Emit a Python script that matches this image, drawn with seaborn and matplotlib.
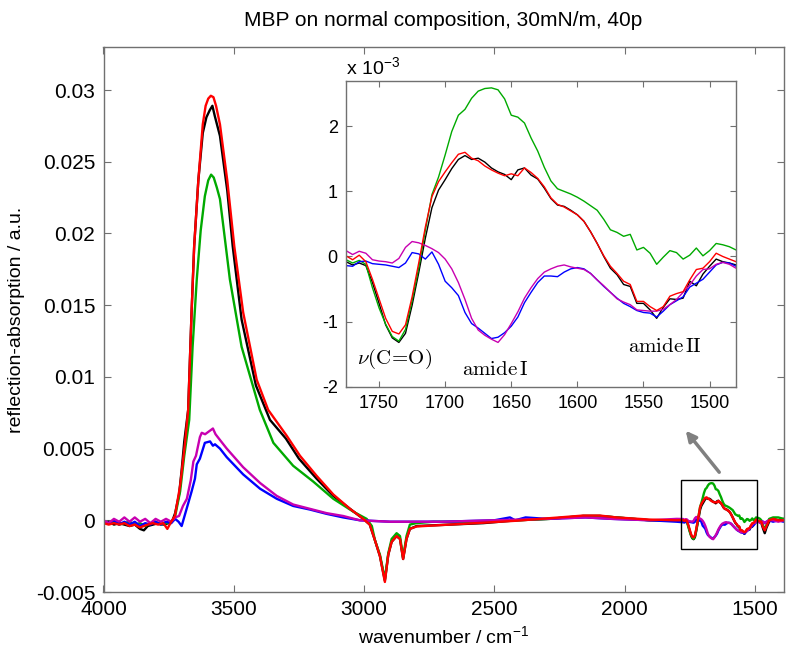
import numpy as np
import pandas as pd
import matplotlib
matplotlib.use("Agg")
import matplotlib.pyplot as plt
import matplotlib.patches as mpatches
import seaborn as sns

# ---------------- data ----------------
title = "MBP on normal composition, 30mN/m, 40p"
xlabel = "wavenumber / cm$^{-1}$"
ylabel = "reflection-absorption / a.u."

main_xticks = [4000, 3500, 3000, 2500, 2000, 1500]
main_yticks = [-0.005, 0, 0.005, 0.01, 0.015, 0.02, 0.025, 0.03]
main_ytick_labels = ["-0.005", "0", "0.005", "0.01", "0.015", "0.02", "0.025", "0.03"]
inset_xticks = [1750, 1700, 1650, 1600, 1550, 1500]
inset_yticks = [-2, -1, 0, 1, 2]

series_order = ["black", "green", "blue", "magenta", "red"]
series_colors = {"black": "#000000", "green": "#00aa00", "blue": "#0000ff",
                 "magenta": "#c800b0", "red": "#ff0000"}

# broad region (4000 - 1800 cm-1), absorbance units
black_wn = [4000, 3980, 3960, 3940, 3920, 3900, 3880, 3860, 3845, 3830, 3810, 3790, 3770, 3750,
            3735, 3725, 3710, 3700, 3690, 3675, 3662, 3652, 3636, 3619, 3605, 3592, 3582, 3573,
            3553, 3525, 3504, 3470, 3415, 3361, 3300, 3250, 3182, 3118, 3054, 3003, 2978, 2958,
            2939, 2920, 2907, 2894, 2875, 2862, 2850, 2837, 2824, 2798, 2670, 2543, 2414, 2287,
            2159, 2095, 2031, 1903, 1800]
black_val = [-0.0002, -0.0001, -0.0003, -0.0002, -0.0003, -0.0004, -0.0003, -0.0006, -0.0007,
             -0.0004, -0.0003, -0.0002, -0.0003, -0.0002, 0.0000, 0.0005, 0.0018, 0.0035, 0.0055,
             0.0077, 0.0145, 0.0191, 0.0237, 0.0270, 0.0281, 0.0286, 0.0289, 0.0282, 0.0268,
             0.0230, 0.0191, 0.0140, 0.0094, 0.0070, 0.0057, 0.0043, 0.0029, 0.0017, 0.0008,
             0.0001, -0.0003, -0.0014, -0.0025, -0.0042, -0.0024, -0.0015, -0.0011, -0.0013,
             -0.0027, -0.0013, -0.0006, -0.0004, -0.0003, -0.0002, 0.0000, 0.0001, 0.0003,
             0.0003, 0.0002, 0.0000, 0.0000]

red_wn = [4000, 3980, 3960, 3940, 3920, 3900, 3880, 3860, 3845, 3830, 3810, 3790, 3770, 3755,
          3740, 3726, 3706, 3687, 3675, 3662, 3652, 3636, 3619, 3608, 3598, 3588, 3578, 3568,
          3553, 3525, 3498, 3464, 3412, 3368, 3297, 3246, 3182, 3118, 3054, 3003, 2978, 2958,
          2939, 2920, 2907, 2894, 2875, 2862, 2850, 2837, 2824, 2798, 2670, 2543, 2414, 2287,
          2159, 2095, 2031, 1903, 1800]
red_val = [-0.0002, -0.0003, -0.0002, -0.0003, -0.0002, -0.0004, -0.0003, -0.0005, -0.0004,
           -0.0003, -0.0002, -0.0003, -0.0002, -0.0006, -0.0001, 0.0003, 0.0024, 0.0054, 0.0077,
           0.0145, 0.0191, 0.0237, 0.0276, 0.0289, 0.0294, 0.0296, 0.0295, 0.0289, 0.0276,
           0.0237, 0.0191, 0.0145, 0.0098, 0.0077, 0.0059, 0.0045, 0.0031, 0.0018, 0.0008,
           0.0001, -0.0003, -0.0014, -0.0025, -0.0043, -0.0024, -0.0015, -0.0011, -0.0013,
           -0.0027, -0.0013, -0.0006, -0.00043, -0.0003, -0.00017, -0.00003, 0.00015, 0.00033,
           0.00033, 0.0002, 0.00005, 0.0000]

green_wn = [4000, 3980, 3960, 3940, 3920, 3900, 3880, 3860, 3840, 3820, 3800, 3780, 3760, 3740,
            3726, 3706, 3690, 3671, 3658, 3642, 3627, 3611, 3598, 3587, 3577, 3565, 3553, 3540,
            3515, 3470, 3400, 3348, 3272, 3195, 3118, 3041, 2990, 2970, 2958, 2939, 2920, 2907,
            2894, 2875, 2862, 2850, 2837, 2824, 2800, 2734, 2600, 2414, 2287, 2159, 2095, 2031,
            1903, 1800]
green_val = [-0.0001, -0.0002, -0.0001, -0.0003, -0.0002, -0.0001, -0.0003, -0.0002, -0.0004,
             -0.0002, -0.0001, -0.0003, -0.0002, -0.0001, 0.0002, 0.0020, 0.0045, 0.0070, 0.0121,
             0.0168, 0.0202, 0.0226, 0.0237, 0.0241, 0.0239, 0.0232, 0.0224, 0.0205, 0.0168,
             0.0121, 0.0077, 0.0054, 0.0038, 0.0027, 0.0015, 0.0006, 0.0001, -0.0004, -0.0014,
             -0.0024, -0.0041, -0.0023, -0.0013, -0.0009, -0.0011, -0.0026, -0.0011, -0.0003,
             -0.0002, -0.0001, -0.0001, 0.0000, 0.0001, 0.0003, 0.0003, 0.0002, 0.0000, 0.0000]

blue_wn = [4000, 3980, 3960, 3940, 3920, 3900, 3880, 3860, 3840, 3820, 3800, 3780, 3760, 3740,
           3725, 3712, 3700, 3681, 3662, 3649, 3642, 3630, 3611, 3591, 3580, 3572, 3553, 3527,
           3464, 3399, 3335, 3272, 3208, 3144, 3080, 3016, 2900, 2700, 2500, 2440, 2420, 2380,
           2300, 2150, 2050, 1900, 1800]
blue_val = [-0.0001, -0.0002, 0.0000, -0.0003, -0.0001, -0.0003, -0.0001, -0.0004, -0.0002,
            -0.0003, -0.0001, -0.0003, -0.0001, -0.0002, 0.0001, -0.0001, -0.0004, 0.0008,
            0.0020, 0.0029, 0.0039, 0.0043, 0.0054, 0.0055, 0.0052, 0.0053, 0.0050, 0.0044,
            0.0032, 0.0022, 0.0015, 0.0010, 0.00075, 0.00045, 0.0002, 0.0000, -0.0001, -0.0001,
            0.0000, 0.0002, 0.0000, 0.0002, 0.0001, 0.0002, 0.0001, 0.0000, -0.0001]

magenta_wn = [4000, 3980, 3960, 3940, 3920, 3900, 3880, 3860, 3840, 3820, 3800, 3780, 3760, 3740,
              3725, 3710, 3695, 3680, 3665, 3655, 3645, 3630, 3623, 3610, 3595, 3580, 3570, 3553,
              3527, 3464, 3399, 3335, 3272, 3208, 3144, 3080, 3016, 2900, 2700, 2500, 2300, 2150,
              2050, 1900, 1800]
magenta_val = [0.0000, -0.0002, 0.0001, -0.0001, 0.0002, -0.0001, 0.0002, -0.0001, 0.0001,
               -0.0002, 0.0001, -0.0001, 0.0001, -0.0001, 0.0002, 0.0003, 0.0010, 0.0015, 0.0028,
               0.0041, 0.0045, 0.0058, 0.0061, 0.0060, 0.0062, 0.0064, 0.0060, 0.0056, 0.0050,
               0.0037, 0.0026, 0.0017, 0.0011, 0.0008, 0.0005, 0.0003, 0.0000, -0.0001, -0.0001,
               0.0000, 0.0001, 0.0002, 0.0001, 0.0000, 0.0001]

# amide region (inset), units of 1e-3
amide_wn = [1775, 1770, 1765, 1760, 1755, 1750, 1745, 1740, 1735, 1730, 1725, 1720, 1715, 1710,
            1705, 1700, 1695, 1690, 1685, 1680, 1675, 1670, 1665, 1660, 1655, 1650, 1645, 1640,
            1635, 1630, 1625, 1620, 1615, 1610, 1605, 1600, 1595, 1590, 1585, 1580, 1575, 1570,
            1565, 1560, 1555, 1550, 1545, 1540, 1535, 1530, 1525, 1520, 1515, 1510, 1505, 1500,
            1495, 1490, 1485, 1480]
green_amide = [-0.05, -0.10, -0.06, -0.12, -0.48, -0.79, -1.04, -1.23, -1.30, -1.12, -0.68, -0.18,
               0.40, 0.95, 1.22, 1.56, 1.92, 2.17, 2.26, 2.43, 2.54, 2.58, 2.59, 2.56, 2.42, 2.17,
               2.14, 2.05, 1.82, 1.62, 1.37, 1.16, 1.04, 1.00, 0.96, 0.91, 0.85, 0.78, 0.71, 0.57,
               0.41, 0.37, 0.31, 0.34, 0.10, 0.14, 0.05, -0.12, -0.01, 0.09, 0.06, -0.04, 0.02,
               0.13, 0.01, 0.09, 0.20, 0.18, 0.15, 0.10]
black_amide = [-0.08, -0.13, -0.10, -0.14, -0.40, -0.72, -1.05, -1.25, -1.32, -1.18, -0.75, -0.25,
               0.28, 0.75, 1.02, 1.18, 1.35, 1.49, 1.55, 1.49, 1.51, 1.45, 1.36, 1.30, 1.26, 1.18,
               1.33, 1.36, 1.25, 1.19, 1.05, 0.89, 0.79, 0.77, 0.71, 0.64, 0.54, 0.38, 0.20, 0.00,
               -0.18, -0.28, -0.43, -0.46, -0.72, -0.72, -0.82, -0.95, -0.78, -0.65, -0.66, -0.64,
               -0.38, -0.45, -0.27, -0.15, -0.04, -0.08, -0.10, -0.13]
red_amide = [0.01, -0.05, 0.02, -0.08, -0.35, -0.65, -0.95, -1.15, -1.19, -1.05, -0.62, -0.10,
             0.45, 0.92, 1.15, 1.30, 1.44, 1.57, 1.60, 1.51, 1.47, 1.39, 1.33, 1.28, 1.24, 1.27,
             1.24, 1.36, 1.29, 1.20, 1.07, 0.90, 0.80, 0.76, 0.70, 0.64, 0.54, 0.38, 0.20, 0.01,
             -0.15, -0.26, -0.38, -0.43, -0.69, -0.69, -0.77, -0.83, -0.77, -0.61, -0.57, -0.54,
             -0.36, -0.20, -0.18, -0.08, 0.05, 0.00, -0.04, -0.08]
blue_amide = [-0.14, -0.15, -0.08, -0.07, -0.11, -0.12, -0.13, -0.15, -0.17, -0.10, 0.06, 0.04,
              -0.04, 0.07, -0.12, -0.38, -0.48, -0.60, -0.86, -1.03, -1.10, -1.18, -1.26, -1.24,
              -1.17, -1.07, -0.93, -0.71, -0.55, -0.40, -0.30, -0.30, -0.31, -0.24, -0.19, -0.17,
              -0.19, -0.26, -0.36, -0.46, -0.55, -0.64, -0.72, -0.77, -0.83, -0.86, -0.87, -0.93,
              -0.84, -0.74, -0.68, -0.62, -0.47, -0.41, -0.35, -0.24, -0.13, -0.09, -0.10, -0.15]
magenta_amide = [0.09, 0.03, 0.08, 0.05, -0.05, -0.07, -0.08, -0.10, -0.03, 0.14, 0.23, 0.21,
                 0.17, 0.12, 0.06, -0.04, -0.19, -0.40, -0.66, -0.95, -1.13, -1.21, -1.27, -1.32,
                 -1.20, -1.03, -0.85, -0.64, -0.48, -0.34, -0.24, -0.19, -0.15, -0.13, -0.16,
                 -0.18, -0.20, -0.26, -0.36, -0.45, -0.55, -0.65, -0.70, -0.74, -0.82, -0.83,
                 -0.84, -0.84, -0.81, -0.74, -0.66, -0.55, -0.44, -0.30, -0.20, -0.19, -0.12,
                 -0.09, -0.12, -0.18]

# tail region (1475 - 1390 cm-1), absorbance units
tail_wn = [1475, 1468, 1462, 1455, 1445, 1430, 1410, 1390]
black_tail = [-0.0002, -0.0006, -0.0009, -0.0005, -0.0001, 0.0001, 0.0000, 0.0001]
red_tail = [-0.0001, -0.0005, -0.0007, -0.0004, 0.0000, 0.0001, 0.0000, 0.0000]
green_tail = [0.0000, -0.0004, -0.0006, -0.0003, 0.0001, 0.0002, 0.0002, 0.0001]
blue_tail = [-0.0001, -0.0001, -0.0002, -0.0001, 0.0000, -0.0001, 0.0000, -0.0001]
magenta_tail = [-0.0001, -0.0001, -0.0002, -0.0001, 0.0000, 0.0000, -0.0001, 0.0000]

annotations = [(r"$\nu(\mathrm{C\!=\!O})$", 1738, -1.58),
               (r"$\mathrm{amide\,I}$", 1662, -1.73),
               (r"$\mathrm{amide\,II}$", 1534, -1.38)]

# ---------------- build tables ----------------
broad = {"black": (black_wn, black_val), "green": (green_wn, green_val),
         "blue": (blue_wn, blue_val), "magenta": (magenta_wn, magenta_val),
         "red": (red_wn, red_val)}
amide = {"black": black_amide, "green": green_amide, "blue": blue_amide,
         "magenta": magenta_amide, "red": red_amide}
tail = {"black": black_tail, "green": green_tail, "blue": blue_tail,
        "magenta": magenta_tail, "red": red_tail}

main_rows, inset_rows = [], []
for name in series_order:
    bw, bv = broad[name]
    wn = list(bw) + amide_wn + tail_wn
    vals = list(bv) + [v * 1e-3 for v in amide[name]] + tail[name]
    for i, (w, v) in enumerate(zip(wn, vals)):
        main_rows.append({"order": i, "wn": w, "val": v, "series": name})
    for i, (w, v) in enumerate(zip(amide_wn, amide[name])):
        inset_rows.append({"order": i, "wn": w, "val": v, "series": name})
main_df = pd.DataFrame(main_rows)
inset_df = pd.DataFrame(inset_rows)

# ---------------- style ----------------
sns.set_style("ticks")
plt.rcParams["font.family"] = ["Liberation Sans", "DejaVu Sans"]
plt.rcParams["mathtext.fontset"] = "custom"
plt.rcParams["mathtext.rm"] = "Liberation Sans"
plt.rcParams["mathtext.it"] = "Liberation Sans:italic"
plt.rcParams["mathtext.bf"] = "Liberation Sans:bold"
plt.rcParams["text.color"] = "black"
plt.rcParams["axes.labelcolor"] = "black"
plt.rcParams["xtick.labelcolor"] = "black"
plt.rcParams["ytick.labelcolor"] = "black"
frame_color = "#707070"

fig = plt.figure(figsize=(7.87, 6.5), dpi=100)
ax = fig.add_axes([103.5 / 787, 58 / 650, 680 / 787, 545 / 650])

sns.lineplot(data=main_df, x="wn", y="val", hue="series", hue_order=series_order,
             palette=series_colors, sort=False, estimator=None, units="series",
             linewidth=1.7, legend=False, ax=ax)
ax.set_xlim(4000, 1390)
ax.set_ylim(-0.005, 0.033)
ax.set_xticks(main_xticks)
ax.set_xticklabels([str(t) for t in main_xticks])
ax.set_yticks(main_yticks)
ax.set_yticklabels(main_ytick_labels)
ax.tick_params(direction="in", top=True, right=True, labelsize=15, length=5,
               color=frame_color, labelcolor="black", pad=6)
for s in ax.spines.values():
    s.set_color(frame_color)
    s.set_linewidth(1.0)
ax.set_xlabel(xlabel, fontsize=14, labelpad=4, color="black")
ax.set_ylabel(ylabel, fontsize=14, labelpad=8, color="black")
ax.set_title(title, fontsize=15, pad=15, color="black")

# zoom box and arrow
rect = mpatches.Rectangle((1490, -0.002), 292, 0.0048, fill=False, edgecolor="black",
                          linewidth=1.0, zorder=5)
ax.add_patch(rect)
ax.annotate("", xy=(1772, 0.0064), xytext=(1630, 0.0032),
            arrowprops=dict(arrowstyle="-|>,head_length=0.6,head_width=0.3",
                            color="#808080", lw=2.5))

# inset
axin = fig.add_axes([346 / 787, 1 - 386.7 / 650, 390 / 787, 306 / 650])
sns.lineplot(data=inset_df, x="wn", y="val", hue="series", hue_order=series_order,
             palette=series_colors, sort=False, estimator=None, units="series",
             linewidth=1.0, legend=False, ax=axin)
axin.set_xlim(1775, 1480)
axin.set_ylim(-2, 2.7)
axin.set_xticks(inset_xticks)
axin.set_xticklabels([str(t) for t in inset_xticks])
axin.set_yticks(inset_yticks)
axin.set_yticklabels([str(t) for t in inset_yticks])
axin.tick_params(direction="in", top=True, right=True, labelsize=13, length=4,
                 color=frame_color, labelcolor="black", pad=6)
for s in axin.spines.values():
    s.set_color(frame_color)
    s.set_linewidth(1.0)
axin.set_xlabel("")
axin.set_ylabel("")
axin.text(0.0, 1.008, r"x 10$^{-3}$", transform=axin.transAxes, fontsize=14,
          ha="left", va="bottom", color="black")
for txt, xw, yv in annotations:
    axin.text(xw, yv, txt, fontsize=15, ha="center", va="center", math_fontfamily="cm",
              color="black")

fig.savefig("out.png", dpi=100)
